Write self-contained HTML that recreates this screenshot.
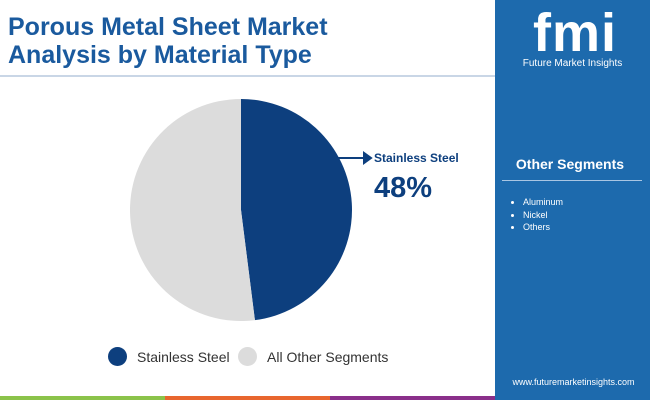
<!DOCTYPE html>
<html><head><meta charset="utf-8"><style>
body{margin:0;width:650px;height:400px;overflow:hidden;background:#fff;font-family:"Liberation Sans",sans-serif;position:relative}
.abs{position:absolute}
</style></head><body>
<div class="abs" style="left:8px;top:13px;font-size:25px;font-weight:bold;color:#1a5a9e;line-height:28px">Porous Metal Sheet Market<br>Analysis by Material Type</div>
<div class="abs" style="left:0;top:75px;width:495px;height:2px;background:#c9d6e6"></div>
<div class="abs" style="left:495px;top:0;width:155px;height:400px;background:#1d6aad"></div>
<div class="abs" style="left:515px;top:2px;width:120px;text-align:center;font-size:54px;font-weight:bold;color:#fff;letter-spacing:1px">fmi</div>
<div class="abs" style="left:505px;top:58px;width:135px;text-align:center;font-size:10px;color:#fff">Future Market Insights</div>
<div class="abs" style="left:505px;top:156px;width:130px;text-align:center;font-size:14px;font-weight:bold;color:#fff">Other Segments</div>
<div class="abs" style="left:502px;top:180px;width:140px;height:1px;background:#a9c6e3"></div>
<ul class="abs" style="left:505px;top:196px;margin:0;padding-left:18px;font-size:9px;color:#fff;line-height:12.5px">
<li>Aluminum</li>
<li>Nickel</li>
<li>Others</li></ul>
<div class="abs" style="left:497px;top:377px;width:153px;text-align:center;font-size:9px;color:#fff">www.futuremarketinsights.com</div>
<div class="abs" style="left:0;top:396px;width:165px;height:4px;background:#8bc34a"></div>
<div class="abs" style="left:165px;top:396px;width:165px;height:4px;background:#e8662e"></div>
<div class="abs" style="left:330px;top:396px;width:165px;height:4px;background:#8a2f8a"></div>
<svg class="abs" style="left:0;top:0" width="495" height="400" id="pie"></svg>
<div class="abs" style="left:374px;top:151px;font-size:12px;font-weight:bold;color:#0d3f7e">Stainless Steel</div>
<div class="abs" style="left:374px;top:172px;font-size:29px;font-weight:bold;color:#0d3f7e">48%</div>
<div class="abs" style="left:108px;top:347px;font-size:14px;color:#333;display:flex;align-items:center"><span style="display:inline-block;width:19px;height:19px;border-radius:50%;background:#0d3f7e;margin-right:10px"></span>Stainless Steel</div>
<div class="abs" style="left:238px;top:347px;font-size:14px;color:#333;display:flex;align-items:center"><span style="display:inline-block;width:19px;height:19px;border-radius:50%;background:#dcdcdc;margin-right:10px"></span>All Other Segments</div>
<script>
const categories=["Stainless Steel","All Other Segments"];
const values=[48,52];
const colors=["#0d3f7e","#dcdcdc"];
const svg=document.getElementById('pie');
const cx=241,cy=210,r=111;
const total=values.reduce((a,b)=>a+b,0);
let a0=-Math.PI/2;
values.forEach((v,i)=>{
 const a1=a0+v/total*2*Math.PI;
 const p=document.createElementNS('http://www.w3.org/2000/svg','path');
 const large=(a1-a0)>Math.PI?1:0;
 p.setAttribute('d',`M${cx},${cy}L${cx+r*Math.cos(a0)},${cy+r*Math.sin(a0)}A${r},${r} 0 ${large} 1 ${cx+r*Math.cos(a1)},${cy+r*Math.sin(a1)}Z`);
 p.setAttribute('fill',colors[i]);
 
 
 svg.appendChild(p);
 a0=a1;
});
const ln=document.createElementNS('http://www.w3.org/2000/svg','path');
ln.setAttribute('d','M338,158H364M364,153L371,158L364,163Z');
ln.setAttribute('stroke','#0d3f7e');ln.setAttribute('stroke-width','2');ln.setAttribute('fill','#0d3f7e');


svg.appendChild(ln);
</script>
</body></html>
